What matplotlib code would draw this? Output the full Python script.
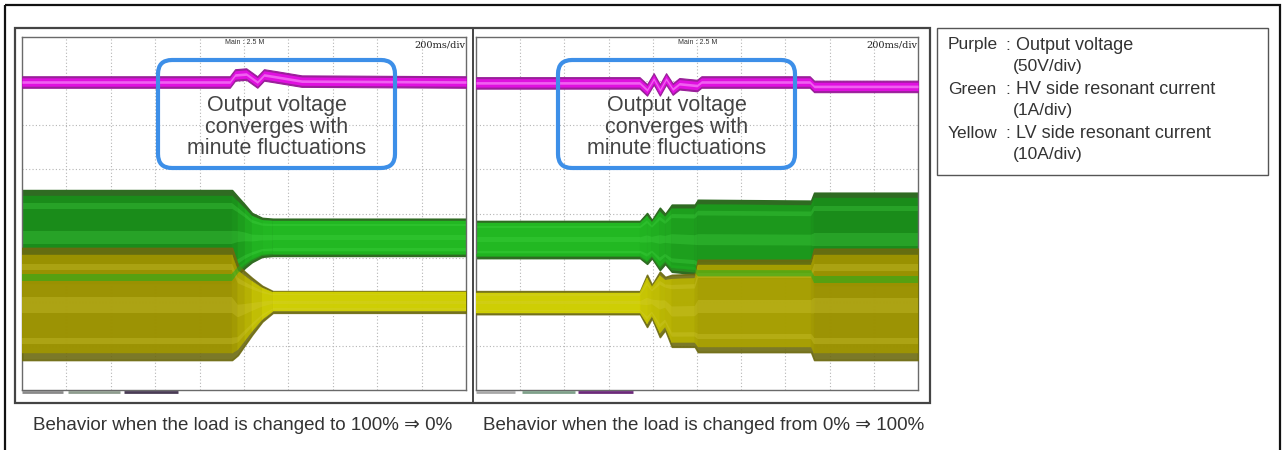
import numpy as np
import matplotlib
matplotlib.use('Agg')
import matplotlib.pyplot as plt
from matplotlib.collections import PolyCollection
from matplotlib.patches import FancyBboxPatch, Rectangle
from matplotlib.colors import to_rgb

plt.rcParams['font.family'] = ['Liberation Sans', 'DejaVu Sans']

# trace envelopes, in scope divisions (x: 0-10 time, y: 0-8)
time_l = [0.0, 4.73, 4.86, 5.02, 5.18, 5.41, 5.65, 10.0]
green_top_l = [4.53, 4.53, 4.38, 4.20, 4.01, 3.90, 3.88, 3.88]
green_bot_l = [2.43, 2.43, 2.61, 2.77, 2.90, 3.02, 3.04, 3.04]
yellow_top_l = [3.22, 3.22, 2.83, 2.68, 2.54, 2.36, 2.24, 2.24]
yellow_bot_l = [0.68, 0.68, 0.79, 1.02, 1.25, 1.55, 1.75, 1.75]

time_r = [0.0, 3.71, 3.87, 3.98, 4.16, 4.28, 4.43, 4.95, 5.02, 7.58, 7.65, 10.0]
green_top_r = [3.83, 3.83, 4.01, 3.85, 4.13, 3.99, 4.20, 4.20, 4.31, 4.29, 4.47, 4.47]
green_bot_r = [2.99, 2.99, 2.86, 2.99, 2.72, 2.86, 2.68, 2.63, 2.54, 2.54, 2.38, 2.38]
yellow_top_r = [2.24, 2.24, 2.61, 2.38, 2.68, 2.56, 2.61, 2.63, 2.95, 2.95, 3.20, 3.20]
yellow_bot_r = [1.72, 1.72, 1.43, 1.63, 1.20, 1.36, 0.98, 0.98, 0.86, 0.86, 0.68, 0.68]

mag_t_l = [0.0, 4.68, 4.80, 5.05, 5.30, 5.45, 5.70, 6.30, 10.0]
mag_l = [6.98, 6.98, 7.14, 7.16, 6.98, 7.14, 7.10, 7.00, 6.98]
mag_t_r = [0.0, 3.70, 3.87, 4.02, 4.16, 4.30, 4.45, 4.60, 5.00, 5.10, 7.55, 7.65, 10.0]
mag_r = [6.96, 6.96, 6.80, 7.05, 6.80, 7.05, 6.82, 6.94, 6.90, 6.98, 6.98, 6.88, 6.88]

captions = ['Behavior when the load is changed to 100% \u21d2 0%',
            'Behavior when the load is changed from 0% \u21d2 100%']
note = 'Output voltage\nconverges with\nminute fluctuations'
legend_names = ['Purple', 'Green', 'Yellow']
legend_desc = ['Output voltage', 'HV side resonant current', 'LV side resonant current']
legend_scale = ['(50V/div)', '(1A/div)', '(10A/div)']

W, H = 1282, 450


def px_axes(fig, x0, y0, x1, y1):
    return fig.add_axes([x0 / W, 1 - y1 / H, (x1 - x0) / W, (y1 - y0) / H])


def mix(c1, c2, f):
    a, b = np.array(to_rgb(c1)), np.array(to_rgb(c2))
    return tuple(a + (b - a) * f)


def quads(t, lo, hi, f0, f1):
    polys = []
    for i in range(len(t) - 1):
        h0, h1 = hi[i] - lo[i], hi[i + 1] - lo[i + 1]
        polys.append([(t[i], lo[i] + f0 * h0), (t[i + 1], lo[i + 1] + f0 * h1),
                      (t[i + 1], lo[i + 1] + f1 * h1), (t[i], lo[i] + f1 * h0)])
    return polys


def band(ax, t, top, bot, c_narrow, c_wide, c_edge, c_light, alpha=1.0, z=2):
    t, top, bot = np.array(t), np.array(top), np.array(bot)
    h = top - bot
    hm = (h[:-1] + h[1:]) / 2
    f = np.clip((hm - h.min()) / max(np.ptp(h), 1e-9), 0, 1)
    cols = [mix(c_narrow, c_wide, v) for v in f]
    ax.fill_between(t, bot, top, color=c_edge, lw=1.2, alpha=alpha, zorder=z)
    pc = PolyCollection(quads(t, bot, top, 0.06, 0.94), facecolors=cols,
                        edgecolors=cols, linewidths=0.3, alpha=alpha, zorder=z)
    ax.add_collection(pc)
    for a, b in [(0.14, 0.2), (0.42, 0.56), (0.8, 0.86)]:
        ax.add_collection(PolyCollection(quads(t, bot, top, a, b), facecolors=c_light,
                                         edgecolors='none', alpha=0.3 * alpha, zorder=z))


def scope(ax, t, gt, gb, yt, yb, mt, mv):
    ax.set_xlim(0, 10)
    ax.set_ylim(0, 8)
    ax.set_xticks([])
    ax.set_yticks([])
    for v in range(1, 10):
        ax.axvline(v, color='#b5b5b5', lw=0.8, ls=(0, (1, 2)), zorder=1)
    for v in range(1, 8):
        ax.axhline(v, color='#b5b5b5', lw=0.8, ls=(0, (1, 2)), zorder=1)
    for s in ax.spines.values():
        s.set_color('#6a6a6a')
        s.set_linewidth(1.0)
    band(ax, t, gt, gb, '#22b822', '#1a8c1a', '#2f6b22', '#46d846', z=2)
    band(ax, t, yt, yb, '#d8d800', '#a09600', '#6d6a10', '#d8d040', alpha=0.9, z=3)
    # lower lobe of the green trace shows through the yellow one
    t_a, gt_a, gb_a = np.array(t), np.array(gt), np.array(gb)
    ax.add_collection(PolyCollection(quads(t_a, gb_a, gt_a, 0.02, 0.1), facecolors='#1fae1f',
                                     edgecolors='none', alpha=0.55, zorder=4))
    mt, mv = np.array(mt), np.array(mv)
    ax.fill_between(mt, mv - 0.13, mv + 0.13, color='#9a1f9a', lw=0.8, zorder=5)
    ax.fill_between(mt, mv - 0.095, mv + 0.095, color='#e010e0', lw=0, zorder=5)
    ax.fill_between(mt, mv - 0.03, mv + 0.03, color='#f060f0', lw=0, zorder=5)


fig = plt.figure(figsize=(W / 100, H / 100), dpi=100)

ax_l = px_axes(fig, 22, 37, 466, 390)
ax_r = px_axes(fig, 476, 37, 918, 390)
scope(ax_l, time_l, green_top_l, green_bot_l, yellow_top_l, yellow_bot_l, mag_t_l, mag_l)
scope(ax_r, time_r, green_top_r, green_bot_r, yellow_top_r, yellow_bot_r, mag_t_r, mag_r)

ov = fig.add_axes([0, 0, 1, 1])
ov.set_xlim(0, W)
ov.set_ylim(H, 0)
ov.axis('off')
ov.set_zorder(10)
ov.patch.set_visible(False)

# frames
ov.add_patch(Rectangle((5, 5), 1275, 460, fill=False, ec='#111111', lw=1.6))
ov.add_patch(Rectangle((15, 28), 915, 375, fill=False, ec='#444444', lw=1.6))
ov.plot([473, 473], [28, 403], color='#444444', lw=1.4)

# channel indicators under the screens
for x0, x1, c in [(22, 63, '#8a8a8a'), (68, 120, '#8e9c8e'), (124, 178, '#4a3c55'),
                  (476, 515, '#a8a8a8'), (522, 575, '#7fa08a'), (578, 633, '#6c2a7a')]:
    ov.plot([x0, x1], [392, 392], color=c, lw=2, solid_capstyle='butt')

for xc, xr in [(245, 466), (698, 918)]:
    ov.text(xc, 42, 'Main : 2.5 M', fontsize=5, color='#333333', ha='center', va='center')
    ov.text(xr - 1, 45, '200ms/div', fontsize=7, color='#222222', ha='right', va='center',
            family='DejaVu Serif')

for x0 in [158, 558]:
    ov.add_patch(FancyBboxPatch((x0, 60), 237, 108, boxstyle='round,pad=0,rounding_size=14',
                                fill=False, ec='#3d8fe8', lw=3))
    ov.text(x0 + 118.5, 127, note, fontsize=15.5, color='#444444', ha='center', va='center',
            linespacing=1.0)

for xc, cap in zip([243, 704], captions):
    ov.text(xc, 425, cap, fontsize=13.5, color='#333333', ha='center', va='center')

# legend box
ov.add_patch(Rectangle((937, 28), 331, 147, fill=False, ec='#555555', lw=1.0))
for i, (nm, ds, sc) in enumerate(zip(legend_names, legend_desc, legend_scale)):
    y = 45 + i * 44
    ov.text(948, y, nm, fontsize=12.5, color='#333333', ha='left', va='center')
    ov.text(1008, y, ':', fontsize=12.5, color='#333333', ha='center', va='center')
    ov.text(1016, y, ds, fontsize=13, color='#333333', ha='left', va='center')
    ov.text(1013, y + 22, sc, fontsize=12.5, color='#333333', ha='left', va='center')

fig.savefig('out.png', dpi=100, facecolor='white')
